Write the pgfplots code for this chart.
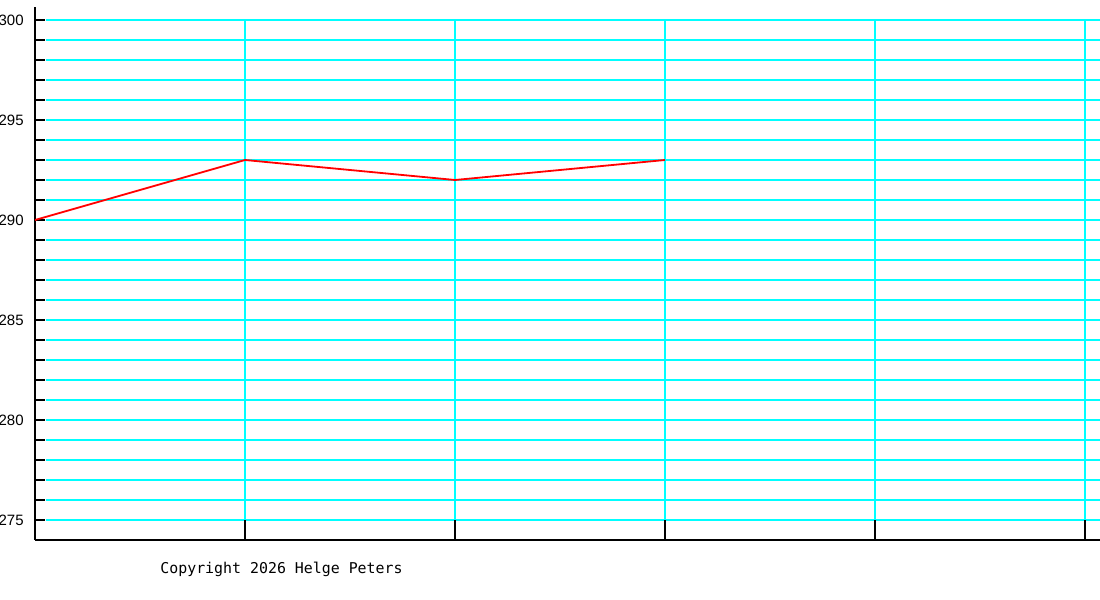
\documentclass[border=0pt]{standalone}
\usepackage{pgfplots}
\pgfplotsset{compat=1.18}
\usepackage{fontspec}
\setmainfont{Liberation Sans}
\newfontfamily\monofont{DejaVu Sans Mono}
\definecolor{gridcyan}{RGB}{0,255,255}
\definecolor{linered}{RGB}{255,0,0}

\begin{document}
\begin{tikzpicture}
\useasboundingbox (0,0) rectangle (550pt,300pt);
\begin{axis}[
  at={(17.5pt,30pt)}, anchor=south west,
  x=105pt, y=10pt,
  xmin=0, xmax=5.071, ymin=274, ymax=300.65,
  axis x line*=bottom, axis y line*=left,
  axis line style={line width=1pt, -},
  xtick=\empty,
  ytick={275,280,...,300},
  minor ytick={276,...,299},
  tick align=inside,
  major tick length=5pt, minor tick length=5pt,
  tick style={black, line width=0.55pt},
  yticklabel style={font=\fontsize{7.5}{8}\selectfont, inner sep=0pt, xshift=-5.5pt},
  /pgf/number format/assume math mode=true,
  clip=false,
]
% grid, starting where the left ticks end
\pgfplotsinvokeforeach{275,...,300}{
  \draw[gridcyan, line width=0.55pt] (axis cs:0.0524,#1) -- (axis cs:5.071,#1);
}
\pgfplotsinvokeforeach{1,...,5}{
  \draw[gridcyan, line width=0.55pt] (axis cs:#1,275) -- (axis cs:#1,300);
  \draw[black, line width=0.55pt] (axis cs:#1,274) -- (axis cs:#1,275);
}
\addplot[linered, line width=0.9pt, mark=none] coordinates {
  (0,290) (1,293) (2,292) (3,293)
};
\end{axis}
\node[anchor=west, inner sep=0pt, font=\monofont\fontsize{7.45}{9}\selectfont] at (80pt,15.5pt) {Copyright 2026 Helge Peters};
\end{tikzpicture}
\end{document}
